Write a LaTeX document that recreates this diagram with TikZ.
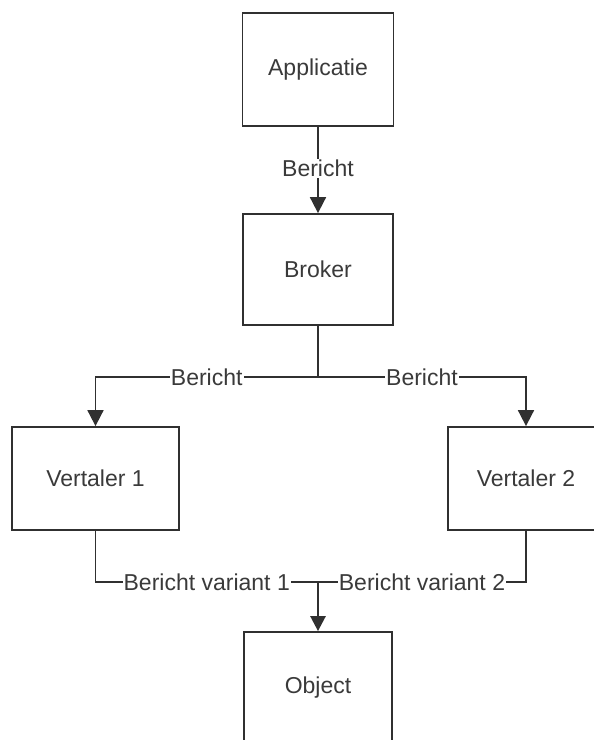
\documentclass[tikz,border=0pt]{standalone}
\usepackage{fontspec}
\setmainfont{Liberation Sans}
\usetikzlibrary{arrows.meta}
\definecolor{ink}{HTML}{303030}
\definecolor{txt}{HTML}{3A3A3A}
\tikzset{
  box/.style={draw=ink, line width=1.8pt, fill=white, text=txt,
              inner sep=0pt, font=\fontsize{23}{27}\selectfont},
  link/.style={draw=ink, line width=1.8pt},
  flow/.style={link, -{Triangle[length=16pt,width=16pt]}},
  tag/.style={fill=white, text=txt, inner sep=1pt,
              font=\fontsize{23}{27}\selectfont}
}
\begin{document}
\begin{tikzpicture}[x=1pt,y=-1pt]
  \useasboundingbox (0,0) rectangle (594,740);
  \clip (0,0) rectangle (594,740);
  \fill[white] (0,0) rectangle (594,740);

  % boxes
  \node[box, minimum width=151pt, minimum height=113pt] (app) at (318,69.5) {Applicatie};
  \node[box, minimum width=150pt, minimum height=111pt] (brk) at (318,269.5) {Broker};
  \node[box, minimum width=167pt, minimum height=103pt] (v1) at (95.5,478.5) {Vertaler 1};
  \node[box, minimum width=156pt, minimum height=103pt] (v2) at (526,478.5) {Vertaler 2};
  \node[box, minimum width=148pt, minimum height=112pt] (obj) at (318,688) {Object};

  % junction points
  \coordinate (split) at (318,377);
  \coordinate (merge) at (318,582);

  % application to broker
  \draw[flow] (app.south) -- node[tag, pos=0.48] {Bericht} (brk.north);

  % broker fans out to the translators
  \draw[link] (brk.south) -- (split);
  \draw[flow] (split) -| node[tag, pos=0.25] {Bericht} (v1.north);
  \draw[flow] (split) -| node[tag, pos=0.25] {Bericht} (v2.north);

  % translators deliver to the object
  \draw[link] (v1.south) |- node[tag, pos=0.75] {Bericht variant 1} (merge);
  \draw[link] (v2.south) |- node[tag, pos=0.75] {Bericht variant 2} (merge);
  \draw[flow, line width=2.6pt, -{Triangle[length=15pt,width=15pt]}] (merge) -- (obj.north);
\end{tikzpicture}
\end{document}
